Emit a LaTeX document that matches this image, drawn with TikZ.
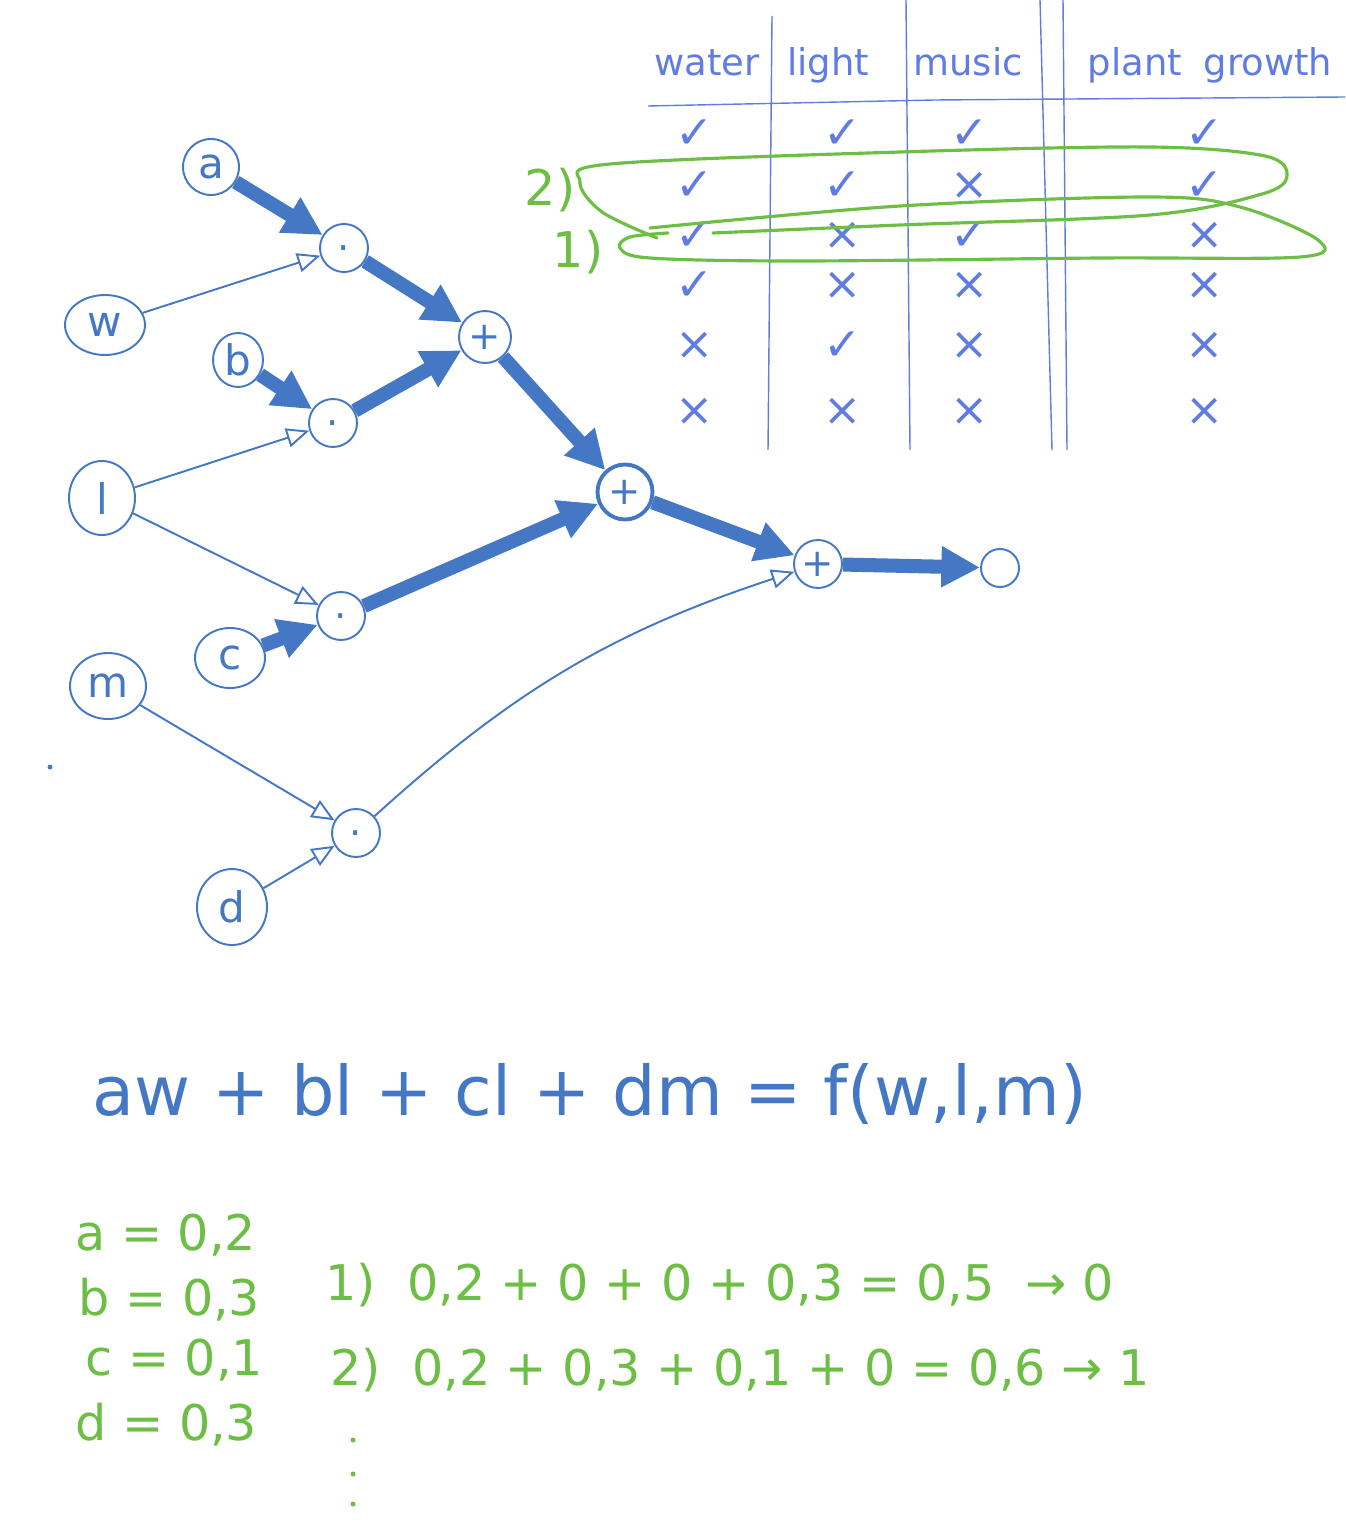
\documentclass[tikz,border=0pt]{standalone}
\usepackage{fontspec}
\setmainfont{DejaVu Sans}
\usetikzlibrary{arrows.meta,shapes.geometric}
\definecolor{inkblue}{RGB}{68,119,196}
\definecolor{gridblue}{RGB}{96,124,228}
\definecolor{inkgreen}{RGB}{108,190,68}
\newcommand\chk{✓}
\newcommand\crs{×}
\tikzset{
	var/.style={draw=inkblue, ellipse, line width=1.1pt, inner sep=0pt, text=inkblue, font=\fontsize{24}{24}\selectfont},
	op/.style={draw=inkblue, circle, line width=1.1pt, inner sep=0pt, minimum size=0.96cm, text=inkblue, font=\fontsize{22}{22}\selectfont},
	mul/.style={op, text height=15pt, text depth=0pt},
	thinedge/.style={inkblue, line width=1.1pt, -{Triangle[open,length=13pt,width=11pt]}},
	thickedge/.style={inkblue, line width=8pt, -{Triangle[length=22pt,width=22pt]}},
	head/.style={text=gridblue, font=\fontsize{21}{21}\selectfont, anchor=base},
	cell/.style={text=gridblue, font=\fontsize{26}{26}\selectfont},
	grid/.style={gridblue, line width=0.8pt},
	loop/.style={inkgreen, line width=1.8pt, line cap=round},
	val/.style={text=inkgreen, font=\fontsize{28}{28}\selectfont, anchor=base west, inner sep=0pt},
}
\begin{document}
\begin{tikzpicture}[x=0.02cm, y=-0.02cm]
			%%%%% START %%%%%
			\useasboundingbox (0,0) rectangle (1345,1540);
			
			% inputs and weights
			\node[var, minimum width=1.12cm, minimum height=1.12cm] (a) at (211,167) {a};
			\node[var, minimum width=1.6cm, minimum height=1.2cm] (w) at (105,325) {w};
			\node[var, minimum width=1.0cm, minimum height=1.08cm] (b) at (238,360) {b};
			\node[var, minimum width=1.32cm, minimum height=1.48cm] (l) at (102,498) {l};
			\node[var, minimum width=1.4cm, minimum height=1.2cm] (c) at (230,658) {c};
			\node[var, minimum width=1.52cm, minimum height=1.32cm] (m) at (108,686) {m};
			\node[var, minimum width=1.4cm, minimum height=1.52cm] (d) at (232,907) {d};
			
			% operations
			\node[mul] (m1) at (344,248) {·};
			\node[mul] (m2) at (333,423) {·};
			\node[mul] (m3) at (341,616) {·};
			\node[mul] (m4) at (356,833) {·};
			\node[op, minimum size=1.04cm] (p1) at (485,337) {+};
			\node[op, minimum size=1.1cm, line width=2.2pt] (p2) at (625,492) {+};
			\node[op] (p3) at (818,564) {+};
			\node[op, minimum size=0.76cm] (out) at (1000,568) {};
			
			\fill[inkblue] (50,767) circle (2.5);
			
			\draw[thickedge] (a) -- (m1);
			\draw[thinedge] (w) -- (m1);
			\draw[thickedge] (m1) -- (p1);
			\draw[thickedge] (b) -- (m2);
			\draw[thinedge] (l) -- (m2);
			\draw[thickedge] (m2) -- (p1);
			\draw[thinedge] (l) -- (m3);
			\draw[thickedge] (c) -- (m3);
			\draw[thickedge] (p1) -- (p2);
			\draw[thickedge] (m3) -- (p2);
			\draw[thinedge] (m) -- (m4);
			\draw[thinedge] (d) -- (m4);
			\draw[thickedge] (p2) -- (p3);
			\draw[thinedge] (m4) to[bend left=12] (p3);
			\draw[thickedge] (p3) -- (out);
			
			% table
			\draw[grid] (648,106) -- (935,100) -- (1345,97);
			\draw[grid] (772,16) -- (768,450);
			\draw[grid] (906,0) -- (910,450);
			\draw[grid] (1040,0) -- (1052,450);
			\draw[grid] (1063,0) -- (1067,450);
			
			\foreach \x/\lab in {707/water, 828/light, 968/music, 1135/plant, 1268/growth}
				\node[head] (h-\lab) at (\x,76) {\lab};
			
			\foreach \r/\y/\wa/\li/\mu/\gr in {1/134/\chk/\chk/\chk/\chk, 2/186/\chk/\chk/\crs/\chk, 3/236/\chk/\crs/\chk/\crs, 4/286/\chk/\crs/\crs/\crs, 5/346/\crs/\chk/\crs/\crs, 6/412/\crs/\crs/\crs/\crs}{
				\node[cell] (wa\r) at (695,\y) {\wa};
				\node[cell] (li\r) at (843,\y) {\li};
				\node[cell] (mu\r) at (970,\y) {\mu};
				\node[cell] (gr\r) at (1205,\y) {\gr};
			}
			
			% selected rows
			\draw[loop] plot[smooth, tension=0.55] coordinates {(713,233) (900,225) (1150,215) (1262,194) (1287,176) (1265,156) (1150,147) (900,152) (610,164) (580,182) (602,212) (657,238)};
			\draw[loop] plot[smooth, tension=0.55] coordinates {(650,228) (900,206) (1150,197) (1240,207) (1318,240) (1300,257) (1100,258) (800,261) (650,258) (620,248) (630,237) (668,233)};
			\node[val, anchor=center] (r2) at (550,190) {2)};
			\node[val, anchor=center] (r1) at (578,252) {1)};
			
			% formula
			\node[anchor=base west, inner sep=0pt, text=inkblue, font=\fontsize{39}{39}\selectfont] (f) at (92,1115) {aw + bl + cl + dm = f(w,l,m)};
			
			\node[val] (va) at (75,1250) {a = 0,2};
			\node[val] (vb) at (78,1315) {b = 0,3};
			\node[val] (vc) at (85,1375) {c = 0,1};
			\node[val] (vd) at (75,1440) {d = 0,3};
			
			\node[val] (s1) at (325,1300) {1)\ \ 0,2 + 0 + 0 + 0,3 = 0,5 \ → 0};
			\node[val] (s2) at (330,1385) {2)\ \ 0,2 + 0,3 + 0,1 + 0 = 0,6 → 1};
			\foreach \y in {1440,1474,1504}
				\fill[inkgreen] (353,\y) circle (2.5);
			
			%%%%% END %%%%%
\end{tikzpicture}
\end{document}
